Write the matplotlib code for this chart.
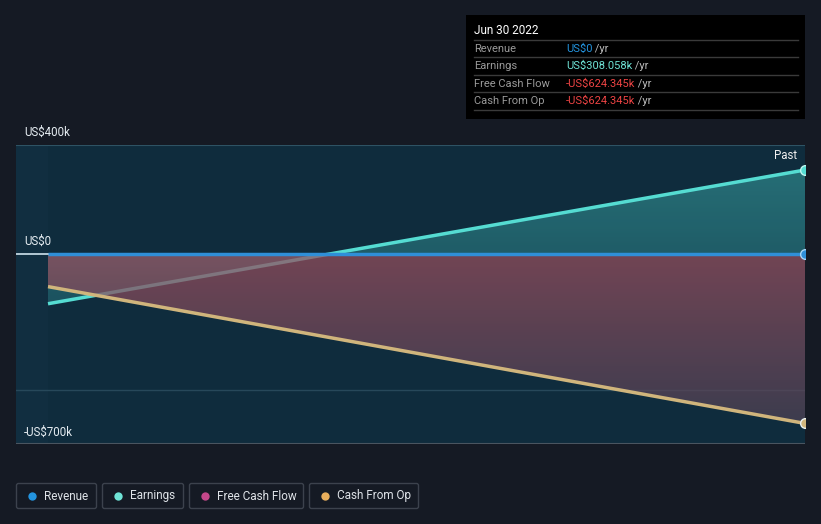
import matplotlib
matplotlib.use("Agg")
import matplotlib.pyplot as plt
import numpy as np
from matplotlib.patches import FancyBboxPatch, Polygon
import matplotlib.transforms as mtransforms

# ---- data (thousands of US$) ----
periods = ["Jun 30 2021", "Jun 30 2022"]
revenue = [0.0, 0.0]
earnings = [-184.0, 308.058]
free_cash_flow = [-121.0, -624.345]
cash_from_op = [-121.0, -624.345]
y_ticks = [400, 0, -700]
y_tick_labels = ["US$400k", "US$0", "-US$700k"]

legend_names = ["Revenue", "Earnings", "Free Cash Flow", "Cash From Op"]
legend_colors = ["#2394df", "#6fe3d6", "#c4478a", "#e8ae5c"]

tooltip_date = "Jun 30 2022"
tooltip_rows = [("Revenue", "US$0", "#2394df"),
                ("Earnings", "US$308.058k", "#6fe3d6"),
                ("Free Cash Flow", "-US$624.345k", "#ee4444"),
                ("Cash From Op", "-US$624.345k", "#ee4444")]

BG = "#151a24"
W, H = 821, 524
fig = plt.figure(figsize=(W / 100, H / 100), dpi=100, facecolor=BG)
plt.rcParams['font.family'] = ['Roboto', 'DejaVu Sans']

L, R, T, B = 16, 805, 145, 444
ax = fig.add_axes([L / W, 1 - B / H, (R - L) / W, (B - T) / H])
ax.set_facecolor("#0f2c3d")
x = np.arange(len(periods), dtype=float)
x0 = -(48 - L) / (R - 48)
ax.set_xlim(x0, 1)
ax.set_ylim(-700, 400)
for s in ax.spines.values():
    s.set_visible(False)
ax.set_xticks([])
ax.set_yticks([])

ax.axvspan(x0, 0, color="#112e40", zorder=0.5, lw=0)
ax.axhline(-500, color="#27485a", lw=1, zorder=1)
ax.axhline(400, color="#2e5364", lw=1.5, zorder=1)
ax.axhline(-700, color="#4a5560", lw=1.5, zorder=1)


def grad_fill(ax, xs, ytop, ybot, c_top, c_bot, alpha, z):
    verts = list(zip(xs, ytop)) + list(zip(xs[::-1], ybot[::-1]))
    poly = Polygon(verts, closed=True, facecolor="none", edgecolor="none")
    ax.add_patch(poly)
    ymin = min(min(ytop), min(ybot)); ymax = max(max(ytop), max(ybot))
    c1 = np.array(matplotlib.colors.to_rgb(c_top)); c2 = np.array(matplotlib.colors.to_rgb(c_bot))
    n = 256
    t = np.linspace(0, 1, n)[:, None]
    img = c1 * (1 - t) + c2 * t
    rgba = np.concatenate([img, np.full((n, 1), alpha)], axis=1)[:, None, :]
    im = ax.imshow(rgba, extent=[min(xs), max(xs), ymin, ymax], aspect="auto",
                   origin="upper", zorder=z, interpolation="bilinear")
    im.set_clip_path(poly)


xs = np.array(x)
grad_fill(ax, xs, np.array(earnings), np.array(revenue), "#2a7a80", "#1f5a66", 0.85, 2)
ax.plot(x, earnings, color="#55dcd2", lw=2.5, zorder=3, solid_capstyle="butt")
grad_fill(ax, xs, np.array(revenue), np.array(free_cash_flow), "#9a4f5e", "#4f4356", 0.72, 4)

ax.axhline(0, color="#cfe3ee", lw=1.2, zorder=4.5)
ax.plot(x, cash_from_op, color="#d0b57c", lw=2.5, zorder=5, solid_capstyle="butt")
ax.plot(x, revenue, color="#2f8fd8", lw=2.5, zorder=6, solid_capstyle="butt")

ax.plot([x[-1]], [earnings[-1]], "o", ms=7, color="#55dcd2", mec="#bff5f0", mew=1, zorder=7)
ax.plot([x[-1]], [revenue[-1]], "o", ms=7, color="#2f8fd8", mec="#a9d6f7", mew=1, zorder=7)
ax.plot([x[-1]], [cash_from_op[-1]], "o", ms=7, color="#d0b57c", mec="#e9f0f0", mew=1, zorder=7)

trans = mtransforms.blended_transform_factory(fig.transFigure, ax.transData)
offsets = {400: 13, 0: 12, -700: 12}
for v, lab in zip(y_ticks, y_tick_labels):
    ax.annotate(lab, xy=(24 / W, v), xycoords=trans, xytext=(0, offsets[v] * 0.72),
                textcoords="offset points", color="#e6edf2", fontsize=8.3, va="center", ha="left",
                annotation_clip=False, zorder=8)

fig.text(797 / W, 1 - 156 / H, "Past", color="#f0f0f0", fontsize=8.3, ha="right", va="center")

tb = fig.add_axes([466 / W, 1 - 119 / H, (805 - 466) / W, (119 - 15) / H])
tb.set_xlim(466, 805); tb.set_ylim(119, 15)
tb.set_facecolor("#000000")
for s in tb.spines.values():
    s.set_visible(False)
tb.set_xticks([]); tb.set_yticks([])
tb.text(474, 31, tooltip_date, color="#ffffff", fontsize=8.5, va="center", ha="left")
row_y = [49, 66, 84, 101]
for (name, val, col), yy in zip(tooltip_rows, row_y):
    tb.plot([474, 798], [yy - 9, yy - 9], color="#3a3a3a", lw=1)
    tb.text(474, yy, name, color="#9a9a9a", fontsize=8, va="center", ha="left")
    t = tb.text(566, yy, val, color=col, fontsize=8, va="center", ha="left")
    tb.annotate(" /yr", xycoords=t, xy=(1, 0.5), va="center", ha="left", color="#bbbbbb", fontsize=8)
tb.plot([474, 798], [110, 110], color="#3a3a3a", lw=1)

boxes = [(16, 97), (102, 184), (189, 304), (309, 419)]
lg = fig.add_axes([0, 0, 1, 1], facecolor="none")
lg.set_xlim(0, W); lg.set_ylim(H, 0); lg.axis("off")
for (bx0, bx1), name, col in zip(boxes, legend_names, legend_colors):
    lg.add_patch(FancyBboxPatch((bx0 + 0.5, 483.5), bx1 - bx0 - 1, 25, boxstyle="round,pad=0,rounding_size=2",
                                facecolor="none", edgecolor="#3c424d", lw=1))
    lg.plot([bx0 + 16], [496], "o", ms=6, color=col, mec="none")
    lg.text(bx0 + 28, 496, name, color="#dfe3e8", fontsize=8.5, va="center", ha="left")

fig.savefig("out.png", dpi=100, facecolor=BG)
